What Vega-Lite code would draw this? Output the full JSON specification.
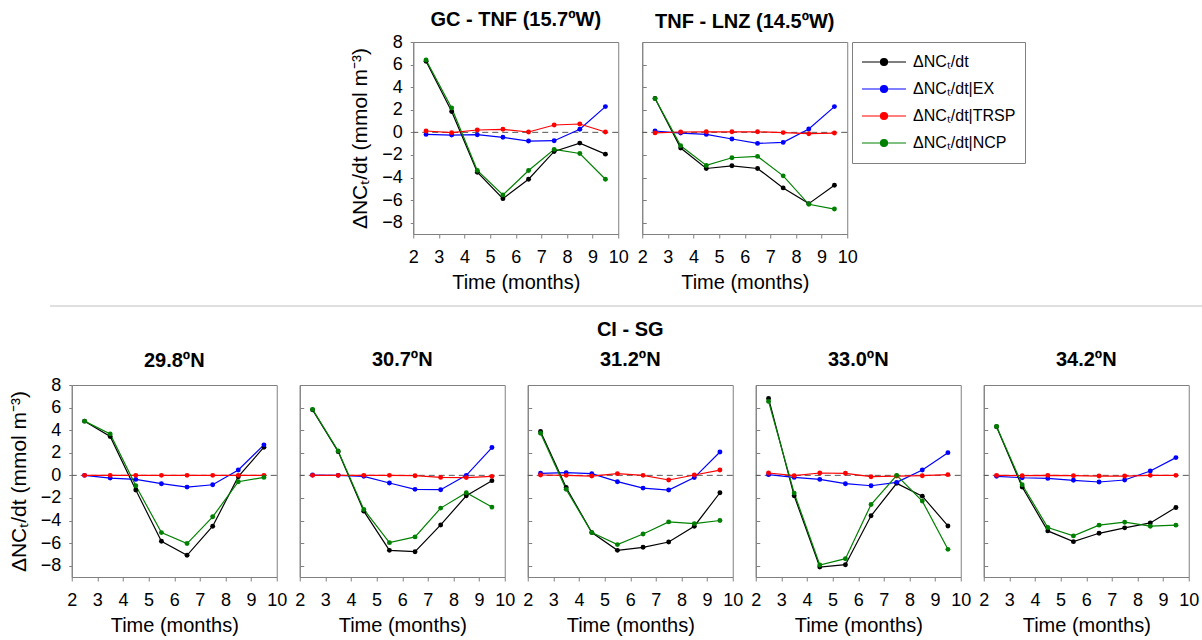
{
"$schema": "https://vega.github.io/schema/vega-lite/v6.json",
"background": "white",
"padding": {"left": 7, "top": 9, "right": 0, "bottom": 0},
"datasets": {"d": [
{"p":"A","s":"total","t":2.5,"v":6.3},{"p":"A","s":"total","t":3.5,"v":1.84},{"p":"A","s":"total","t":4.5,"v":-3.53},{"p":"A","s":"total","t":5.5,"v":-5.87},{"p":"A","s":"total","t":6.5,"v":-4.15},{"p":"A","s":"total","t":7.5,"v":-1.69},{"p":"A","s":"total","t":8.5,"v":-0.95},{"p":"A","s":"total","t":9.5,"v":-1.93},
{"p":"A","s":"EX","t":2.5,"v":-0.18},{"p":"A","s":"EX","t":3.5,"v":-0.24},{"p":"A","s":"EX","t":4.5,"v":-0.21},{"p":"A","s":"EX","t":5.5,"v":-0.44},{"p":"A","s":"EX","t":6.5,"v":-0.77},{"p":"A","s":"EX","t":7.5,"v":-0.74},{"p":"A","s":"EX","t":8.5,"v":0.27},{"p":"A","s":"EX","t":9.5,"v":2.28},
{"p":"A","s":"TRSP","t":2.5,"v":0.12},{"p":"A","s":"TRSP","t":3.5,"v":-0.03},{"p":"A","s":"TRSP","t":4.5,"v":0.21},{"p":"A","s":"TRSP","t":5.5,"v":0.27},{"p":"A","s":"TRSP","t":6.5,"v":0.03},{"p":"A","s":"TRSP","t":7.5,"v":0.65},{"p":"A","s":"TRSP","t":8.5,"v":0.74},{"p":"A","s":"TRSP","t":9.5,"v":0.03},
{"p":"A","s":"NCP","t":2.5,"v":6.4},{"p":"A","s":"NCP","t":3.5,"v":2.16},{"p":"A","s":"NCP","t":4.5,"v":-3.38},{"p":"A","s":"NCP","t":5.5,"v":-5.54},{"p":"A","s":"NCP","t":6.5,"v":-3.38},{"p":"A","s":"NCP","t":7.5,"v":-1.51},{"p":"A","s":"NCP","t":8.5,"v":-1.87},{"p":"A","s":"NCP","t":9.5,"v":-4.15},
{"p":"B","s":"total","t":2.5,"v":3.0},{"p":"B","s":"total","t":3.5,"v":-1.39},{"p":"B","s":"total","t":4.5,"v":-3.2},{"p":"B","s":"total","t":5.5,"v":-2.96},{"p":"B","s":"total","t":6.5,"v":-3.2},{"p":"B","s":"total","t":7.5,"v":-4.92},{"p":"B","s":"total","t":8.5,"v":-6.31},{"p":"B","s":"total","t":9.5,"v":-4.68},
{"p":"B","s":"EX","t":2.5,"v":0.12},{"p":"B","s":"EX","t":3.5,"v":-0.06},{"p":"B","s":"EX","t":4.5,"v":-0.18},{"p":"B","s":"EX","t":5.5,"v":-0.59},{"p":"B","s":"EX","t":6.5,"v":-0.98},{"p":"B","s":"EX","t":7.5,"v":-0.89},{"p":"B","s":"EX","t":8.5,"v":0.3},{"p":"B","s":"EX","t":9.5,"v":2.28},
{"p":"B","s":"TRSP","t":2.5,"v":-0.05},{"p":"B","s":"TRSP","t":3.5,"v":0.03},{"p":"B","s":"TRSP","t":4.5,"v":0.05},{"p":"B","s":"TRSP","t":5.5,"v":0.05},{"p":"B","s":"TRSP","t":6.5,"v":0.05},{"p":"B","s":"TRSP","t":7.5,"v":-0.02},{"p":"B","s":"TRSP","t":8.5,"v":-0.12},{"p":"B","s":"TRSP","t":9.5,"v":-0.06},
{"p":"B","s":"NCP","t":2.5,"v":2.99},{"p":"B","s":"NCP","t":3.5,"v":-1.19},{"p":"B","s":"NCP","t":4.5,"v":-2.93},{"p":"B","s":"NCP","t":5.5,"v":-2.25},{"p":"B","s":"NCP","t":6.5,"v":-2.13},{"p":"B","s":"NCP","t":7.5,"v":-3.85},{"p":"B","s":"NCP","t":8.5,"v":-6.37},{"p":"B","s":"NCP","t":9.5,"v":-6.79},
{"p":"C1","s":"total","t":2.5,"v":4.8},{"p":"C1","s":"total","t":3.5,"v":3.44},{"p":"C1","s":"total","t":4.5,"v":-1.3},{"p":"C1","s":"total","t":5.5,"v":-5.84},{"p":"C1","s":"total","t":6.5,"v":-7.08},{"p":"C1","s":"total","t":7.5,"v":-4.5},{"p":"C1","s":"total","t":8.5,"v":-0.12},{"p":"C1","s":"total","t":9.5,"v":2.49},
{"p":"C1","s":"EX","t":2.5,"v":0},{"p":"C1","s":"EX","t":3.5,"v":-0.24},{"p":"C1","s":"EX","t":4.5,"v":-0.36},{"p":"C1","s":"EX","t":5.5,"v":-0.74},{"p":"C1","s":"EX","t":6.5,"v":-1.04},{"p":"C1","s":"EX","t":7.5,"v":-0.83},{"p":"C1","s":"EX","t":8.5,"v":0.47},{"p":"C1","s":"EX","t":9.5,"v":2.7},
{"p":"C1","s":"TRSP","t":2.5,"v":0},{"p":"C1","s":"TRSP","t":3.5,"v":0},{"p":"C1","s":"TRSP","t":4.5,"v":0},{"p":"C1","s":"TRSP","t":5.5,"v":0},{"p":"C1","s":"TRSP","t":6.5,"v":0},{"p":"C1","s":"TRSP","t":7.5,"v":0},{"p":"C1","s":"TRSP","t":8.5,"v":0},{"p":"C1","s":"TRSP","t":9.5,"v":0},
{"p":"C1","s":"NCP","t":2.5,"v":4.8},{"p":"C1","s":"NCP","t":3.5,"v":3.67},{"p":"C1","s":"NCP","t":4.5,"v":-0.92},{"p":"C1","s":"NCP","t":5.5,"v":-5.07},{"p":"C1","s":"NCP","t":6.5,"v":-6.04},{"p":"C1","s":"NCP","t":7.5,"v":-3.67},{"p":"C1","s":"NCP","t":8.5,"v":-0.56},{"p":"C1","s":"NCP","t":9.5,"v":-0.18},
{"p":"C2","s":"total","t":2.5,"v":5.8},{"p":"C2","s":"total","t":3.5,"v":2.1},{"p":"C2","s":"total","t":4.5,"v":-3.17},{"p":"C2","s":"total","t":5.5,"v":-6.64},{"p":"C2","s":"total","t":6.5,"v":-6.76},{"p":"C2","s":"total","t":7.5,"v":-4.39},{"p":"C2","s":"total","t":8.5,"v":-1.81},{"p":"C2","s":"total","t":9.5,"v":-0.47},
{"p":"C2","s":"EX","t":2.5,"v":0.03},{"p":"C2","s":"EX","t":3.5,"v":0},{"p":"C2","s":"EX","t":4.5,"v":-0.09},{"p":"C2","s":"EX","t":5.5,"v":-0.68},{"p":"C2","s":"EX","t":6.5,"v":-1.24},{"p":"C2","s":"EX","t":7.5,"v":-1.27},{"p":"C2","s":"EX","t":8.5,"v":0},{"p":"C2","s":"EX","t":9.5,"v":2.46},
{"p":"C2","s":"TRSP","t":2.5,"v":0},{"p":"C2","s":"TRSP","t":3.5,"v":0},{"p":"C2","s":"TRSP","t":4.5,"v":0},{"p":"C2","s":"TRSP","t":5.5,"v":0},{"p":"C2","s":"TRSP","t":6.5,"v":-0.03},{"p":"C2","s":"TRSP","t":7.5,"v":-0.18},{"p":"C2","s":"TRSP","t":8.5,"v":-0.2},{"p":"C2","s":"TRSP","t":9.5,"v":-0.09},
{"p":"C2","s":"NCP","t":2.5,"v":5.84},{"p":"C2","s":"NCP","t":3.5,"v":2.16},{"p":"C2","s":"NCP","t":4.5,"v":-3.02},{"p":"C2","s":"NCP","t":5.5,"v":-5.96},{"p":"C2","s":"NCP","t":6.5,"v":-5.45},{"p":"C2","s":"NCP","t":7.5,"v":-2.9},{"p":"C2","s":"NCP","t":8.5,"v":-1.54},{"p":"C2","s":"NCP","t":9.5,"v":-2.81},
{"p":"C3","s":"total","t":2.5,"v":3.88},{"p":"C3","s":"total","t":3.5,"v":-1.07},{"p":"C3","s":"total","t":4.5,"v":-5.07},{"p":"C3","s":"total","t":5.5,"v":-6.64},{"p":"C3","s":"total","t":6.5,"v":-6.37},{"p":"C3","s":"total","t":7.5,"v":-5.9},{"p":"C3","s":"total","t":8.5,"v":-4.5},{"p":"C3","s":"total","t":9.5,"v":-1.54},
{"p":"C3","s":"EX","t":2.5,"v":0.18},{"p":"C3","s":"EX","t":3.5,"v":0.24},{"p":"C3","s":"EX","t":4.5,"v":0.15},{"p":"C3","s":"EX","t":5.5,"v":-0.56},{"p":"C3","s":"EX","t":6.5,"v":-1.13},{"p":"C3","s":"EX","t":7.5,"v":-1.3},{"p":"C3","s":"EX","t":8.5,"v":-0.2},{"p":"C3","s":"EX","t":9.5,"v":2.07},
{"p":"C3","s":"TRSP","t":2.5,"v":0.03},{"p":"C3","s":"TRSP","t":3.5,"v":0},{"p":"C3","s":"TRSP","t":4.5,"v":-0.06},{"p":"C3","s":"TRSP","t":5.5,"v":0.15},{"p":"C3","s":"TRSP","t":6.5,"v":0},{"p":"C3","s":"TRSP","t":7.5,"v":-0.41},{"p":"C3","s":"TRSP","t":8.5,"v":0.03},{"p":"C3","s":"TRSP","t":9.5,"v":0.47},
{"p":"C3","s":"NCP","t":2.5,"v":3.73},{"p":"C3","s":"NCP","t":3.5,"v":-1.24},{"p":"C3","s":"NCP","t":4.5,"v":-5.07},{"p":"C3","s":"NCP","t":5.5,"v":-6.13},{"p":"C3","s":"NCP","t":6.5,"v":-5.19},{"p":"C3","s":"NCP","t":7.5,"v":-4.12},{"p":"C3","s":"NCP","t":8.5,"v":-4.27},{"p":"C3","s":"NCP","t":9.5,"v":-4.0},
{"p":"C4","s":"total","t":2.5,"v":6.81},{"p":"C4","s":"total","t":3.5,"v":-1.81},{"p":"C4","s":"total","t":4.5,"v":-8.12},{"p":"C4","s":"total","t":5.5,"v":-7.91},{"p":"C4","s":"total","t":6.5,"v":-3.58},{"p":"C4","s":"total","t":7.5,"v":-0.71},{"p":"C4","s":"total","t":8.5,"v":-1.84},{"p":"C4","s":"total","t":9.5,"v":-4.48},
{"p":"C4","s":"EX","t":2.5,"v":0.06},{"p":"C4","s":"EX","t":3.5,"v":-0.18},{"p":"C4","s":"EX","t":4.5,"v":-0.36},{"p":"C4","s":"EX","t":5.5,"v":-0.74},{"p":"C4","s":"EX","t":6.5,"v":-0.92},{"p":"C4","s":"EX","t":7.5,"v":-0.62},{"p":"C4","s":"EX","t":8.5,"v":0.47},{"p":"C4","s":"EX","t":9.5,"v":2.01},
{"p":"C4","s":"TRSP","t":2.5,"v":0.21},{"p":"C4","s":"TRSP","t":3.5,"v":-0.03},{"p":"C4","s":"TRSP","t":4.5,"v":0.21},{"p":"C4","s":"TRSP","t":5.5,"v":0.18},{"p":"C4","s":"TRSP","t":6.5,"v":-0.12},{"p":"C4","s":"TRSP","t":7.5,"v":-0.06},{"p":"C4","s":"TRSP","t":8.5,"v":-0.03},{"p":"C4","s":"TRSP","t":9.5,"v":0.06},
{"p":"C4","s":"NCP","t":2.5,"v":6.55},{"p":"C4","s":"NCP","t":3.5,"v":-1.57},{"p":"C4","s":"NCP","t":4.5,"v":-7.94},{"p":"C4","s":"NCP","t":5.5,"v":-7.38},{"p":"C4","s":"NCP","t":6.5,"v":-2.58},{"p":"C4","s":"NCP","t":7.5,"v":0.0},{"p":"C4","s":"NCP","t":8.5,"v":-2.28},{"p":"C4","s":"NCP","t":9.5,"v":-6.55},
{"p":"C5","s":"total","t":2.5,"v":4.3},{"p":"C5","s":"total","t":3.5,"v":-1.04},{"p":"C5","s":"total","t":4.5,"v":-4.92},{"p":"C5","s":"total","t":5.5,"v":-5.87},{"p":"C5","s":"total","t":6.5,"v":-5.13},{"p":"C5","s":"total","t":7.5,"v":-4.65},{"p":"C5","s":"total","t":8.5,"v":-4.21},{"p":"C5","s":"total","t":9.5,"v":-2.84},
{"p":"C5","s":"EX","t":2.5,"v":-0.09},{"p":"C5","s":"EX","t":3.5,"v":-0.21},{"p":"C5","s":"EX","t":4.5,"v":-0.27},{"p":"C5","s":"EX","t":5.5,"v":-0.44},{"p":"C5","s":"EX","t":6.5,"v":-0.59},{"p":"C5","s":"EX","t":7.5,"v":-0.41},{"p":"C5","s":"EX","t":8.5,"v":0.39},{"p":"C5","s":"EX","t":9.5,"v":1.57},
{"p":"C5","s":"TRSP","t":2.5,"v":0},{"p":"C5","s":"TRSP","t":3.5,"v":-0.03},{"p":"C5","s":"TRSP","t":4.5,"v":0},{"p":"C5","s":"TRSP","t":5.5,"v":-0.03},{"p":"C5","s":"TRSP","t":6.5,"v":-0.06},{"p":"C5","s":"TRSP","t":7.5,"v":-0.06},{"p":"C5","s":"TRSP","t":8.5,"v":0},{"p":"C5","s":"TRSP","t":9.5,"v":0},
{"p":"C5","s":"NCP","t":2.5,"v":4.33},{"p":"C5","s":"NCP","t":3.5,"v":-0.83},{"p":"C5","s":"NCP","t":4.5,"v":-4.62},{"p":"C5","s":"NCP","t":5.5,"v":-5.36},{"p":"C5","s":"NCP","t":6.5,"v":-4.41},{"p":"C5","s":"NCP","t":7.5,"v":-4.15},{"p":"C5","s":"NCP","t":8.5,"v":-4.5},{"p":"C5","s":"NCP","t":9.5,"v":-4.41}
]},
"vconcat": [
{"hconcat": [
 {"width": 205, "height": 192, "title": {"text": "GC - TNF (15.7ºW)", "offset": 3},
  "layer": [
   {"data": {"values": [{}]}, "mark": {"type": "rule", "strokeDash": [6, 4], "color": "#555555", "strokeWidth": 1}, "encoding": {"y": {"datum": 0, "type": "quantitative", "scale": {"domain": [-9, 8], "nice": false, "zero": false}, "axis": {"values": [-8,-6,-4,-2,0,2,4,6,8], "title": "ΔNCₜ/dt (mmol m⁻³)", "tickSize": 3, "labelPadding": 8, "titlePadding": 11, "labelOverlap": false}}}},
   {"data": {"name": "d"}, "transform": [{"filter": "datum.p == 'A'"}], "mark": {"type": "line", "strokeWidth": 1.2, "point": {"filled": true, "size": 24}},
    "encoding": {
     "x": {"field": "t", "type": "quantitative", "scale": {"domain": [2, 10], "nice": false}, "axis": {"values": [2,3,4,5,6,7,8,9,10], "title": "Time (months)", "tickSize": 4, "labelPadding": 10, "titlePadding": 6, "labelOverlap": false}},
     "y": {"field": "v", "type": "quantitative", "scale": {"domain": [-9, 8], "nice": false, "zero": false}, "axis": {"values": [-8,-6,-4,-2,0,2,4,6,8], "title": "ΔNCₜ/dt (mmol m⁻³)", "tickSize": 3, "labelPadding": 8, "titlePadding": 11, "labelOverlap": false}},
     "color": {"field": "s", "type": "nominal", "scale": {"domain": ["total", "EX", "TRSP", "NCP"], "range": ["#000000", "#0000ff", "#ff0000", "#008000"]},
      "legend": {"orient": "none", "legendX": 802, "legendY": 0, "title": null, "labelExpr": "datum.label == 'total' ? 'ΔNCₜ/dt' : 'ΔNCₜ/dt|' + datum.label", "symbolType": "M-1,0H1M0.16,0A0.16,0.16,0,1,1,-0.16,0A0.16,0.16,0,1,1,0.16,0Z", "symbolSize": 1936, "symbolStrokeWidth": 1.2, "labelFontSize": 16, "labelOffset": 6, "clipHeight": 22, "rowPadding": 5, "padding": 9, "strokeColor": "#808080", "fillColor": "#ffffff", "labelColor": "#000000",
       "encode": {"symbols": {"update": {"fill": {"scale": "color", "field": "value"}, "stroke": {"scale": "color", "field": "value"}}}}}}
    }}
  ]},
 {"width": 205, "height": 192, "title": {"text": "TNF - LNZ (14.5ºW)", "offset": 10},
  "layer": [
   {"data": {"values": [{}]}, "mark": {"type": "rule", "strokeDash": [6, 4], "color": "#555555", "strokeWidth": 1}, "encoding": {"y": {"datum": 0, "type": "quantitative", "scale": {"domain": [-9, 8], "nice": false, "zero": false}, "axis": {"values": [-8,-6,-4,-2,0,2,4,6,8], "title": null, "labels": false, "tickSize": -4}}}},
   {"data": {"name": "d"}, "transform": [{"filter": "datum.p == 'B'"}], "mark": {"type": "line", "strokeWidth": 1.2, "point": {"filled": true, "size": 24}},
    "encoding": {
     "x": {"field": "t", "type": "quantitative", "scale": {"domain": [2, 10], "nice": false}, "axis": {"values": [2,3,4,5,6,7,8,9,10], "title": "Time (months)", "tickSize": 4, "labelPadding": 10, "titlePadding": 6, "labelOverlap": false}},
     "y": {"field": "v", "type": "quantitative", "scale": {"domain": [-9, 8], "nice": false, "zero": false}, "axis": {"values": [-8,-6,-4,-2,0,2,4,6,8], "title": null, "labels": false, "tickSize": -4}},
     "color": {"field": "s", "type": "nominal", "scale": {"domain": ["total", "EX", "TRSP", "NCP"], "range": ["#000000", "#0000ff", "#ff0000", "#008000"]},
      "legend": {"orient": "none", "legendX": 802, "legendY": 0, "title": null, "labelExpr": "datum.label == 'total' ? 'ΔNCₜ/dt' : 'ΔNCₜ/dt|' + datum.label", "symbolType": "M-1,0H1M0.16,0A0.16,0.16,0,1,1,-0.16,0A0.16,0.16,0,1,1,0.16,0Z", "symbolSize": 1936, "symbolStrokeWidth": 1.2, "labelFontSize": 16, "labelOffset": 6, "clipHeight": 22, "rowPadding": 5, "padding": 9, "strokeColor": "#808080", "fillColor": "#ffffff", "labelColor": "#000000",
       "encode": {"symbols": {"update": {"fill": {"scale": "color", "field": "value"}, "stroke": {"scale": "color", "field": "value"}}}}}}
    }}
  ]}
 ], "spacing": 24, "bounds": "flush"},
{"width": 1170, "height": 1, "view": {"stroke": null}, "data": {"values": [{}]}, "mark": {"type": "rule", "color": "#d4d4d4", "strokeWidth": 1.5}, "encoding": {"y": {"datum": 0, "type": "quantitative", "axis": null, "scale": {"domain": [0, 1]}}}},
{"hconcat": [
 {"width": 205, "height": 192, "title": {"text": "29.8ºN", "offset": 5},
  "layer": [
   {"data": {"values": [{}]}, "mark": {"type": "rule", "strokeDash": [6, 4], "color": "#555555", "strokeWidth": 1}, "encoding": {"y": {"datum": 0, "type": "quantitative", "scale": {"domain": [-9, 8], "nice": false, "zero": false}, "axis": {"values": [-8,-6,-4,-2,0,2,4,6,8], "title": "ΔNCₜ/dt (mmol m⁻³)", "tickSize": 3, "labelPadding": 8, "titlePadding": 11, "labelOverlap": false}}}},
   {"data": {"name": "d"}, "transform": [{"filter": "datum.p == 'C1'"}], "mark": {"type": "line", "strokeWidth": 1.2, "point": {"filled": true, "size": 24}},
    "encoding": {
     "x": {"field": "t", "type": "quantitative", "scale": {"domain": [2, 10], "nice": false}, "axis": {"values": [2,3,4,5,6,7,8,9,10], "title": "Time (months)", "tickSize": 4, "labelPadding": 10, "titlePadding": 6, "labelOverlap": false}},
     "y": {"field": "v", "type": "quantitative", "scale": {"domain": [-9, 8], "nice": false, "zero": false}, "axis": {"values": [-8,-6,-4,-2,0,2,4,6,8], "title": "ΔNCₜ/dt (mmol m⁻³)", "tickSize": 3, "labelPadding": 8, "titlePadding": 11, "labelOverlap": false}},
     "color": {"field": "s", "type": "nominal", "scale": {"domain": ["total", "EX", "TRSP", "NCP"], "range": ["#000000", "#0000ff", "#ff0000", "#008000"]},
      "legend": {"orient": "none", "legendX": 802, "legendY": 0, "title": null, "labelExpr": "datum.label == 'total' ? 'ΔNCₜ/dt' : 'ΔNCₜ/dt|' + datum.label", "symbolType": "M-1,0H1M0.16,0A0.16,0.16,0,1,1,-0.16,0A0.16,0.16,0,1,1,0.16,0Z", "symbolSize": 1936, "symbolStrokeWidth": 1.2, "labelFontSize": 16, "labelOffset": 6, "clipHeight": 22, "rowPadding": 5, "padding": 9, "strokeColor": "#808080", "fillColor": "#ffffff", "labelColor": "#000000",
       "encode": {"symbols": {"update": {"fill": {"scale": "color", "field": "value"}, "stroke": {"scale": "color", "field": "value"}}}}}}
    }}
  ]},
 {"width": 205, "height": 192, "title": {"text": "30.7ºN", "offset": 15},
  "layer": [
   {"data": {"values": [{}]}, "mark": {"type": "rule", "strokeDash": [6, 4], "color": "#555555", "strokeWidth": 1}, "encoding": {"y": {"datum": 0, "type": "quantitative", "scale": {"domain": [-9, 8], "nice": false, "zero": false}, "axis": {"values": [-8,-6,-4,-2,0,2,4,6,8], "title": null, "labels": false, "tickSize": -4}}}},
   {"data": {"name": "d"}, "transform": [{"filter": "datum.p == 'C2'"}], "mark": {"type": "line", "strokeWidth": 1.2, "point": {"filled": true, "size": 24}},
    "encoding": {
     "x": {"field": "t", "type": "quantitative", "scale": {"domain": [2, 10], "nice": false}, "axis": {"values": [2,3,4,5,6,7,8,9,10], "title": "Time (months)", "tickSize": 4, "labelPadding": 10, "titlePadding": 6, "labelOverlap": false}},
     "y": {"field": "v", "type": "quantitative", "scale": {"domain": [-9, 8], "nice": false, "zero": false}, "axis": {"values": [-8,-6,-4,-2,0,2,4,6,8], "title": null, "labels": false, "tickSize": -4}},
     "color": {"field": "s", "type": "nominal", "scale": {"domain": ["total", "EX", "TRSP", "NCP"], "range": ["#000000", "#0000ff", "#ff0000", "#008000"]},
      "legend": {"orient": "none", "legendX": 802, "legendY": 0, "title": null, "labelExpr": "datum.label == 'total' ? 'ΔNCₜ/dt' : 'ΔNCₜ/dt|' + datum.label", "symbolType": "M-1,0H1M0.16,0A0.16,0.16,0,1,1,-0.16,0A0.16,0.16,0,1,1,0.16,0Z", "symbolSize": 1936, "symbolStrokeWidth": 1.2, "labelFontSize": 16, "labelOffset": 6, "clipHeight": 22, "rowPadding": 5, "padding": 9, "strokeColor": "#808080", "fillColor": "#ffffff", "labelColor": "#000000",
       "encode": {"symbols": {"update": {"fill": {"scale": "color", "field": "value"}, "stroke": {"scale": "color", "field": "value"}}}}}}
    }}
  ]},
 {"width": 205, "height": 192, "title": {"text": ["CI - SG", "31.2ºN"], "offset": 15, "lineHeight": 30},
  "layer": [
   {"data": {"values": [{}]}, "mark": {"type": "rule", "strokeDash": [6, 4], "color": "#555555", "strokeWidth": 1}, "encoding": {"y": {"datum": 0, "type": "quantitative", "scale": {"domain": [-9, 8], "nice": false, "zero": false}, "axis": {"values": [-8,-6,-4,-2,0,2,4,6,8], "title": null, "labels": false, "tickSize": -4}}}},
   {"data": {"name": "d"}, "transform": [{"filter": "datum.p == 'C3'"}], "mark": {"type": "line", "strokeWidth": 1.2, "point": {"filled": true, "size": 24}},
    "encoding": {
     "x": {"field": "t", "type": "quantitative", "scale": {"domain": [2, 10], "nice": false}, "axis": {"values": [2,3,4,5,6,7,8,9,10], "title": "Time (months)", "tickSize": 4, "labelPadding": 10, "titlePadding": 6, "labelOverlap": false}},
     "y": {"field": "v", "type": "quantitative", "scale": {"domain": [-9, 8], "nice": false, "zero": false}, "axis": {"values": [-8,-6,-4,-2,0,2,4,6,8], "title": null, "labels": false, "tickSize": -4}},
     "color": {"field": "s", "type": "nominal", "scale": {"domain": ["total", "EX", "TRSP", "NCP"], "range": ["#000000", "#0000ff", "#ff0000", "#008000"]},
      "legend": {"orient": "none", "legendX": 802, "legendY": 0, "title": null, "labelExpr": "datum.label == 'total' ? 'ΔNCₜ/dt' : 'ΔNCₜ/dt|' + datum.label", "symbolType": "M-1,0H1M0.16,0A0.16,0.16,0,1,1,-0.16,0A0.16,0.16,0,1,1,0.16,0Z", "symbolSize": 1936, "symbolStrokeWidth": 1.2, "labelFontSize": 16, "labelOffset": 6, "clipHeight": 22, "rowPadding": 5, "padding": 9, "strokeColor": "#808080", "fillColor": "#ffffff", "labelColor": "#000000",
       "encode": {"symbols": {"update": {"fill": {"scale": "color", "field": "value"}, "stroke": {"scale": "color", "field": "value"}}}}}}
    }}
  ]},
 {"width": 205, "height": 192, "title": {"text": "33.0ºN", "offset": 15},
  "layer": [
   {"data": {"values": [{}]}, "mark": {"type": "rule", "strokeDash": [6, 4], "color": "#555555", "strokeWidth": 1}, "encoding": {"y": {"datum": 0, "type": "quantitative", "scale": {"domain": [-9, 8], "nice": false, "zero": false}, "axis": {"values": [-8,-6,-4,-2,0,2,4,6,8], "title": null, "labels": false, "tickSize": -4}}}},
   {"data": {"name": "d"}, "transform": [{"filter": "datum.p == 'C4'"}], "mark": {"type": "line", "strokeWidth": 1.2, "point": {"filled": true, "size": 24}},
    "encoding": {
     "x": {"field": "t", "type": "quantitative", "scale": {"domain": [2, 10], "nice": false}, "axis": {"values": [2,3,4,5,6,7,8,9,10], "title": "Time (months)", "tickSize": 4, "labelPadding": 10, "titlePadding": 6, "labelOverlap": false}},
     "y": {"field": "v", "type": "quantitative", "scale": {"domain": [-9, 8], "nice": false, "zero": false}, "axis": {"values": [-8,-6,-4,-2,0,2,4,6,8], "title": null, "labels": false, "tickSize": -4}},
     "color": {"field": "s", "type": "nominal", "scale": {"domain": ["total", "EX", "TRSP", "NCP"], "range": ["#000000", "#0000ff", "#ff0000", "#008000"]},
      "legend": {"orient": "none", "legendX": 802, "legendY": 0, "title": null, "labelExpr": "datum.label == 'total' ? 'ΔNCₜ/dt' : 'ΔNCₜ/dt|' + datum.label", "symbolType": "M-1,0H1M0.16,0A0.16,0.16,0,1,1,-0.16,0A0.16,0.16,0,1,1,0.16,0Z", "symbolSize": 1936, "symbolStrokeWidth": 1.2, "labelFontSize": 16, "labelOffset": 6, "clipHeight": 22, "rowPadding": 5, "padding": 9, "strokeColor": "#808080", "fillColor": "#ffffff", "labelColor": "#000000",
       "encode": {"symbols": {"update": {"fill": {"scale": "color", "field": "value"}, "stroke": {"scale": "color", "field": "value"}}}}}}
    }}
  ]},
 {"width": 205, "height": 192, "title": {"text": "34.2ºN", "offset": 15},
  "layer": [
   {"data": {"values": [{}]}, "mark": {"type": "rule", "strokeDash": [6, 4], "color": "#555555", "strokeWidth": 1}, "encoding": {"y": {"datum": 0, "type": "quantitative", "scale": {"domain": [-9, 8], "nice": false, "zero": false}, "axis": {"values": [-8,-6,-4,-2,0,2,4,6,8], "title": null, "labels": false, "tickSize": -4}}}},
   {"data": {"name": "d"}, "transform": [{"filter": "datum.p == 'C5'"}], "mark": {"type": "line", "strokeWidth": 1.2, "point": {"filled": true, "size": 24}},
    "encoding": {
     "x": {"field": "t", "type": "quantitative", "scale": {"domain": [2, 10], "nice": false}, "axis": {"values": [2,3,4,5,6,7,8,9,10], "title": "Time (months)", "tickSize": 4, "labelPadding": 10, "titlePadding": 6, "labelOverlap": false}},
     "y": {"field": "v", "type": "quantitative", "scale": {"domain": [-9, 8], "nice": false, "zero": false}, "axis": {"values": [-8,-6,-4,-2,0,2,4,6,8], "title": null, "labels": false, "tickSize": -4}},
     "color": {"field": "s", "type": "nominal", "scale": {"domain": ["total", "EX", "TRSP", "NCP"], "range": ["#000000", "#0000ff", "#ff0000", "#008000"]},
      "legend": {"orient": "none", "legendX": 802, "legendY": 0, "title": null, "labelExpr": "datum.label == 'total' ? 'ΔNCₜ/dt' : 'ΔNCₜ/dt|' + datum.label", "symbolType": "M-1,0H1M0.16,0A0.16,0.16,0,1,1,-0.16,0A0.16,0.16,0,1,1,0.16,0Z", "symbolSize": 1936, "symbolStrokeWidth": 1.2, "labelFontSize": 16, "labelOffset": 6, "clipHeight": 22, "rowPadding": 5, "padding": 9, "strokeColor": "#808080", "fillColor": "#ffffff", "labelColor": "#000000",
       "encode": {"symbols": {"update": {"fill": {"scale": "color", "field": "value"}, "stroke": {"scale": "color", "field": "value"}}}}}}
    }}
  ]}
 ], "spacing": 23, "bounds": "flush"}
],
"spacing": 12,
"center": true,
"resolve": {"scale": {"color": "shared"}, "legend": {"color": "shared"}},
"config": {
 "font": "Liberation Sans",
 "view": {"stroke": "#808080", "strokeWidth": 1},
 "axis": {"grid": false, "domainColor": "#808080", "tickColor": "#808080", "labelFontSize": 18, "titleFontSize": 20, "labelColor": "#000000", "titleColor": "#000000", "titleFontWeight": "normal", "labelFlush": false, "labelFont": "Liberation Sans", "titleFont": "Liberation Sans"},
 "axisY": {"titleFontSize": 21},
 "title": {"fontSize": 20, "fontWeight": "bold", "color": "#000000", "font": "Liberation Sans"},
 "legend": {"labelFont": "Liberation Sans"}
}
}
